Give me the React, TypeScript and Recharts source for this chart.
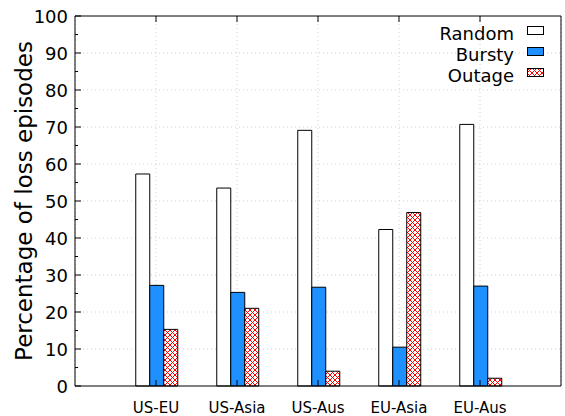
import React from 'react';
import { BarChart, Bar, XAxis, YAxis, CartesianGrid, Label } from 'recharts';

const categories = ['US-EU', 'US-Asia', 'US-Aus', 'EU-Asia', 'EU-Aus'];
const randomPct = [57.3, 53.5, 69.1, 42.3, 70.7];
const burstyPct = [27.2, 25.3, 26.7, 10.5, 27.0];
const outagePct = [15.3, 21.0, 4.0, 46.9, 2.1];
const majorTicks = [0, 10, 20, 30, 40, 50, 60, 70, 80, 90, 100];
const allTicks = [0, 5, 10, 15, 20, 25, 30, 35, 40, 45, 50, 55, 60, 65, 70, 75, 80, 85, 90, 95, 100];

const data = categories.map((name, i) => ({
    name,
    random: randomPct[i],
    bursty: burstyPct[i],
    outage: outagePct[i]
}));

const FONT = '"DejaVu Sans", sans-serif';
const BLUE = '#1e90ff';

// gnuplot-like inward ticks
const LeftTick = (props: any) => {
    const { x, y, payload } = props;
    const major = payload.value % 10 === 0;
    return (
        <g>
            <line x1={x} x2={x + (major ? 6 : 3)} y1={y} y2={y} stroke="#000" />
            {major && (
                <text x={x - 7} y={y} dy={6.5} textAnchor="end" fontSize={18} fontFamily={FONT} fill="#000">
                    {payload.value}
                </text>
            )}
        </g>
    );
};

const RightTick = (props: any) => {
    const { x, y, payload } = props;
    const major = payload.value % 10 === 0;
    return <line x1={x} x2={x - (major ? 6 : 3)} y1={y} y2={y} stroke="#000" />;
};

const BottomTick = (props: any) => {
    const { x, y, payload } = props;
    return (
        <g>
            <line x1={x} x2={x} y1={y} y2={y - 6} stroke="#000" />
            <text x={x} y={y + 27} textAnchor="middle" fontSize={15} fontFamily={FONT} fill="#000">
                {payload.value}
            </text>
        </g>
    );
};

const TopTick = (props: any) => {
    const { x, y } = props;
    return <line x1={x} x2={x} y1={y} y2={y + 6} stroke="#000" />;
};

const legendItems = [
    { label: 'Random', fill: '#fff' },
    { label: 'Bursty', fill: BLUE },
    { label: 'Outage', fill: 'url(#hatch)' }
];

const LegendBox = () => (
    <div style={{ position: 'absolute', top: 23, right: 21, fontFamily: FONT, fontSize: 18, color: '#000' }}>
        {legendItems.map((it) => (
            <div key={it.label} style={{ display: 'flex', alignItems: 'center', justifyContent: 'flex-end', height: 21 }}>
                <span>{it.label}</span>
                <svg width={17} height={9} style={{ marginLeft: 13, position: 'relative', top: -3 }}>
                    <rect x={0.5} y={0.5} width={16} height={8} fill={it.fill} stroke="#000" />
                </svg>
            </div>
        ))}
    </div>
);

const App: React.FC = () => {
    return (
        <div style={{ position: 'absolute', left: 0, top: 0, width: 565, height: 416, background: '#fff' }}>
            <svg width={0} height={0} style={{ position: 'absolute' }}>
                <defs>
                    <pattern id="hatch" width={5} height={5} patternUnits="userSpaceOnUse">
                        <rect width={5} height={5} fill="#fff" />
                        <path d="M0,0 L5,5 M5,0 L0,5" stroke="#ff0000" strokeWidth={1} />
                    </pattern>
                </defs>
            </svg>
            <BarChart
                width={565}
                height={416}
                data={data}
                margin={{ top: 15, right: 3, bottom: 0, left: 0 }}
                barCategoryGap="25%"
                barGap={0}
            >
                <CartesianGrid
                    yAxisId="left"
                    horizontalValues={majorTicks.slice(1, -1)}
                    stroke="#d0d0d0"
                    strokeDasharray="1 3"
                />
                <XAxis
                    dataKey="name"
                    height={30}
                    padding={{ left: 40.5, right: 40.5 }}
                    tickSize={0}
                    tickMargin={0}
                    tick={<BottomTick />}
                    axisLine={{ stroke: '#000' }}
                    interval={0}
                />
                <XAxis
                    xAxisId="top"
                    dataKey="name"
                    orientation="top"
                    height={1}
                    padding={{ left: 40.5, right: 40.5 }}
                    tickSize={0}
                    tickMargin={0}
                    tick={<TopTick />}
                    axisLine={{ stroke: '#000' }}
                    interval={0}
                />
                <YAxis
                    yAxisId="left"
                    width={75}
                    domain={[0, 100]}
                    ticks={allTicks}
                    interval={0}
                    tickSize={0}
                    tickMargin={0}
                    tick={<LeftTick />}
                    axisLine={{ stroke: '#000' }}
                >
                    <Label
                        value="Percentage of loss episodes"
                        angle={-90}
                        position="insideLeft"
                        offset={24}
                        style={{ textAnchor: 'middle', fontSize: 23, fontFamily: FONT, fill: '#000' }}
                    />
                </YAxis>
                <YAxis
                    yAxisId="right"
                    orientation="right"
                    width={1}
                    domain={[0, 100]}
                    ticks={allTicks}
                    interval={0}
                    tickSize={0}
                    tickMargin={0}
                    tick={<RightTick />}
                    axisLine={{ stroke: '#000' }}
                />
                <Bar yAxisId="left" dataKey="random" name="Random" fill="#fff" stroke="#000" isAnimationActive={false} />
                <Bar yAxisId="left" dataKey="bursty" name="Bursty" fill={BLUE} stroke="#000" isAnimationActive={false} />
                <Bar yAxisId="left" dataKey="outage" name="Outage" fill="url(#hatch)" stroke="#000" isAnimationActive={false} />
            </BarChart>
            <LegendBox />
        </div>
    );
};

export default App;
